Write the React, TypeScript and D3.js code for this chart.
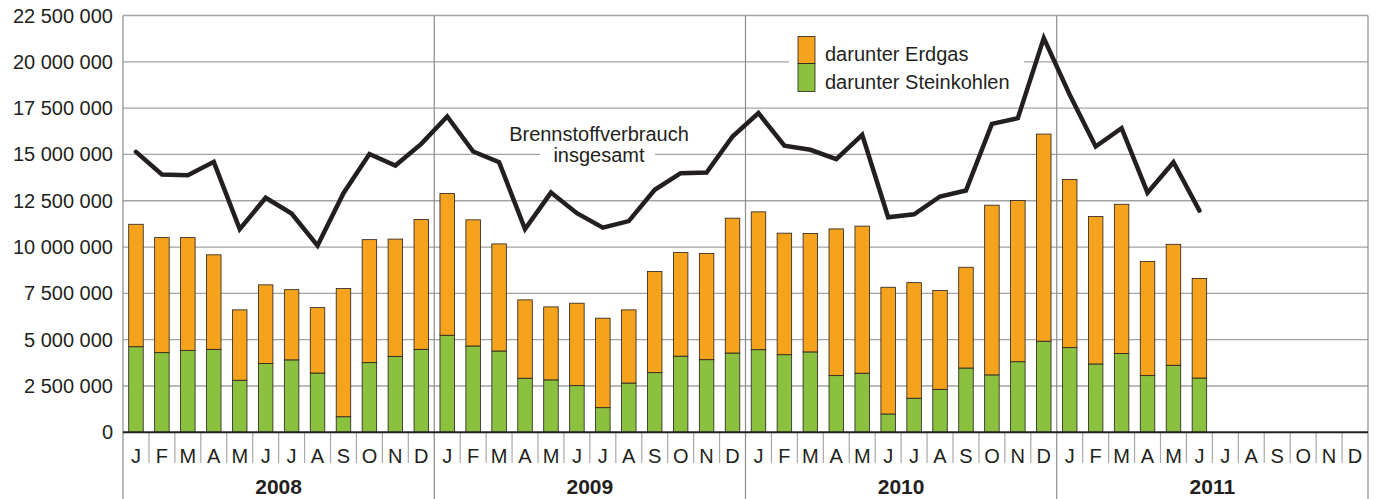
import React from "react";
import * as d3 from "d3";

// values in million tonnes
const years = ["2008", "2009", "2010", "2011"];
const monthLabels = ["J", "F", "M", "A", "M", "J", "J", "A", "S", "O", "N", "D"];

const steinkohlen = [
  4.62, 4.3, 4.41, 4.48, 2.81, 3.71, 3.91, 3.2, 0.84, 3.76, 4.1, 4.48,
  5.24, 4.66, 4.39, 2.92, 2.83, 2.52, 1.33, 2.66, 3.22, 4.11, 3.92, 4.28,
  4.46, 4.19, 4.34, 3.06, 3.19, 0.99, 1.84, 2.32, 3.47, 3.1, 3.81, 4.92,
  4.57, 3.69, 4.25, 3.06, 3.62, 2.93,
];

const erdgas = [
  6.61, 6.21, 6.1, 5.1, 3.8, 4.25, 3.79, 3.53, 6.92, 6.64, 6.33, 7.01,
  7.65, 6.81, 5.78, 4.23, 3.94, 4.45, 4.83, 3.95, 5.46, 5.59, 5.73, 7.28,
  7.44, 6.56, 6.39, 7.92, 7.94, 6.84, 6.24, 5.33, 5.44, 9.16, 8.7, 11.18,
  9.08, 7.96, 8.06, 6.16, 6.53, 5.37,
];

const insgesamt = [
  15.14, 13.92, 13.88, 14.6, 10.97, 12.66, 11.81, 10.08, 12.91, 15.02, 14.4, 15.57,
  17.05, 15.16, 14.58, 10.97, 12.94, 11.83, 11.05, 11.4, 13.09, 13.99, 14.02, 15.97,
  17.23, 15.47, 15.25, 14.75, 16.06, 11.61, 11.77, 12.73, 13.05, 16.65, 16.96, 21.28,
  18.22, 15.43, 16.42, 12.94, 14.58, 11.97,
];

const yTicks = [0, 2.5, 5, 7.5, 10, 12.5, 15, 17.5, 20, 22.5];

const W = 1378;
const H = 499;
const FONT = "'Liberation Sans', Arial, Helvetica, sans-serif";
const ORANGE = "#f5a31c";
const GREEN = "#8bc13f";
const INK = "#231f20";
const GRID = "#a3a3a3";

const App: React.FC = () => {
  const left = 123;
  const right = 1368;
  const top = 15.5;
  const zeroY = 432.3;

  const slots = years.flatMap((yr) => monthLabels.map((m, i) => `${yr}-${i}`));

  const x = d3.scaleBand<string>().domain(slots).range([left, right]).paddingInner(0.44).paddingOuter(0.22);
  const step = x.step();
  const y = d3.scaleLinear().domain([0, 22.5]).range([zeroY, top]);

  const fmt = (v: number) => d3.format(",")(Math.round(v * 1e6)).replace(/,/g, " ");

  const line = d3
    .line<number>()
    .x((_, i) => (x(slots[i]) as number) + x.bandwidth() / 2)
    .y((d) => y(d));

  const yearEdge = (i: number) => left + i * 12 * step;

  return (
    <svg width={W} height={H} style={{ position: "absolute", left: 0, top: 0, background: "#fff" }} fontFamily={FONT}>
      {/* horizontal gridlines */}
      {yTicks.slice(1).map((t) => (
        <line key={t} x1={left} x2={right} y1={y(t)} y2={y(t)} stroke={GRID} strokeWidth={1.3} />
      ))}
      {/* gaps behind labels */}
      <rect x={789} y={30} width={235} height={66} fill="#fff" />
      <rect x={540} y={145} width={115} height={22} fill="#fff" />

      {/* y tick labels */}
      {yTicks.map((t) => (
        <text key={t} x={113} y={y(t) + 7} textAnchor="end" fontSize={20} fill={INK}>
          {fmt(t)}
        </text>
      ))}

      {/* frame and year dividers */}
      {d3.range(years.length + 1).map((i) => (
        <line key={i} x1={yearEdge(i)} x2={yearEdge(i)} y1={top} y2={H} stroke="#8c8c8c" strokeWidth={1.2} />
      ))}

      {/* month separators */}
      {slots.map((s, i) =>
        i % 12 === 0 ? null : (
          <line key={s} x1={left + i * step} x2={left + i * step} y1={zeroY} y2={463} stroke="#a8a8a8" strokeWidth={1.2} />
        )
      )}

      {/* stacked bars */}
      {steinkohlen.map((v, i) => {
        const bx = x(slots[i]) as number;
        const bw = x.bandwidth();
        const top2 = v + erdgas[i];
        return (
          <g key={i}>
            <rect x={bx} y={y(v)} width={bw} height={zeroY - y(v)} fill={GREEN} stroke={INK} strokeWidth={0.8} />
            <rect x={bx} y={y(top2)} width={bw} height={y(v) - y(top2)} fill={ORANGE} stroke={INK} strokeWidth={0.8} />
          </g>
        );
      })}

      {/* zero line */}
      <line x1={left} x2={right} y1={zeroY} y2={zeroY} stroke={INK} strokeWidth={2} />

      {/* total line */}
      <path d={line(insgesamt) || ""} fill="none" stroke={INK} strokeWidth={4.5} strokeLinejoin="miter" strokeLinecap="round" />

      {/* month labels */}
      {slots.map((s, i) => (
        <text key={s} x={(x(s) as number) + x.bandwidth() / 2} y={463} textAnchor="middle" fontSize={20} fill={INK}>
          {monthLabels[i % 12]}
        </text>
      ))}

      {/* year labels */}
      {years.map((yr, i) => (
        <text key={yr} x={yearEdge(i) + 6 * step} y={494} textAnchor="middle" fontSize={21} fontWeight="bold" fill={INK}>
          {yr}
        </text>
      ))}

      {/* line label */}
      <text x={599} y={141} textAnchor="middle" fontSize={20} fill={INK}>
        Brennstoffverbrauch
      </text>
      <text x={599} y={161.5} textAnchor="middle" fontSize={20} fill={INK}>
        insgesamt
      </text>

      {/* legend */}
      <rect x={798} y={36.5} width={17} height={27} fill={ORANGE} stroke={INK} strokeWidth={0.8} />
      <rect x={798} y={63.5} width={17} height={28} fill={GREEN} stroke={INK} strokeWidth={0.8} />
      <text x={825} y={61} fontSize={20} fill={INK}>
        darunter Erdgas
      </text>
      <text x={825} y={88.5} fontSize={20} fill={INK}>
        darunter Steinkohlen
      </text>
    </svg>
  );
};

export default App;
